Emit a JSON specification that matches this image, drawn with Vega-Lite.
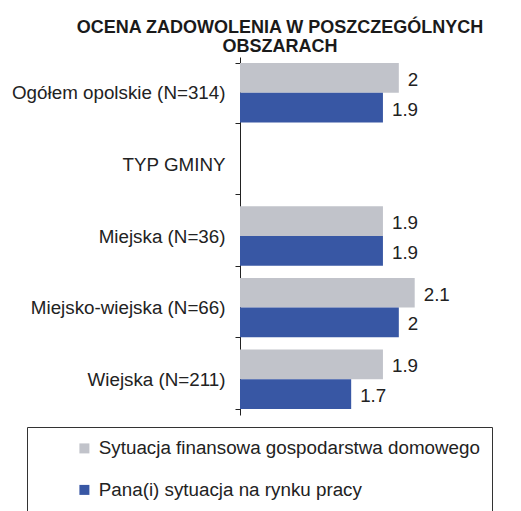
{
  "$schema": "https://vega.github.io/schema/vega-lite/v6.json",
  "autosize": "none",
  "padding": {"left": 240, "top": 57, "right": 11, "bottom": 96},
  "width": 270,
  "height": 358,
  "background": "white",
  "config": {
    "view": {"stroke": null},
    "font": "Liberation Sans"
  },
  "title": {
    "text": ["OCENA ZADOWOLENIA W POSZCZEGÓLNYCH", "OBSZARACH"],
    "fontSize": 18,
    "fontWeight": "bold",
    "font": "Liberation Sans",
    "color": "#1a1a1a",
    "anchor": "middle",
    "frame": "group",
    "dx": -95,
    "dy": 12,
    "offset": 4,
    "lineHeight": 19
  },
  "data": {
    "values": [
      {"kategoria": "Ogółem opolskie (N=314)", "seria": "Sytuacja finansowa gospodarstwa domowego", "wartosc": 2.0},
      {"kategoria": "Ogółem opolskie (N=314)", "seria": "Pana(i) sytuacja na rynku pracy", "wartosc": 1.9},
      {"kategoria": "Miejska (N=36)", "seria": "Sytuacja finansowa gospodarstwa domowego", "wartosc": 1.9},
      {"kategoria": "Miejska (N=36)", "seria": "Pana(i) sytuacja na rynku pracy", "wartosc": 1.9},
      {"kategoria": "Miejsko-wiejska (N=66)", "seria": "Sytuacja finansowa gospodarstwa domowego", "wartosc": 2.1},
      {"kategoria": "Miejsko-wiejska (N=66)", "seria": "Pana(i) sytuacja na rynku pracy", "wartosc": 2.0},
      {"kategoria": "Wiejska (N=211)", "seria": "Sytuacja finansowa gospodarstwa domowego", "wartosc": 1.9},
      {"kategoria": "Wiejska (N=211)", "seria": "Pana(i) sytuacja na rynku pracy", "wartosc": 1.7}
    ]
  },
  "encoding": {
    "y": {
      "field": "kategoria",
      "type": "nominal",
      "scale": {
        "domain": ["Ogółem opolskie (N=314)", "TYP GMINY", "Miejska (N=36)", "Miejsko-wiejska (N=66)", "Wiejska (N=211)"],
        "paddingInner": 0.17,
        "paddingOuter": 0.085
      },
      "axis": {
        "title": null,
        "tickBand": "extent",
        "domainColor": "#222",
        "tickColor": "#222",
        "tickSize": 5,
        "labelFontSize": 18.8,
        "labelColor": "#222",
        "labelPadding": 10,
        "labelLimit": 300,
        "grid": false
      }
    },
    "yOffset": {
      "field": "seria",
      "type": "nominal",
      "scale": {"domain": ["Sytuacja finansowa gospodarstwa domowego", "Pana(i) sytuacja na rynku pracy"], "paddingInner": 0, "paddingOuter": 0}
    },
    "x": {
      "field": "wartosc",
      "type": "quantitative",
      "scale": {"domain": [1, 2.7], "zero": false, "nice": false},
      "axis": null
    }
  },
  "layer": [
    {
      "mark": {"type": "bar"},
      "encoding": {
        "x2": {"datum": 1},
        "color": {
          "field": "seria",
          "type": "nominal",
          "scale": {
            "domain": ["Sytuacja finansowa gospodarstwa domowego", "Pana(i) sytuacja na rynku pracy"],
            "range": ["#C1C3CA", "#3857A4"]
          },
          "legend": {
            "title": "\u00a0",
            "titleOrient": "bottom",
            "titleFontSize": 12,
            "titlePadding": 8,
            "orient": "none",
            "legendX": -213,
            "legendY": 370,
            "direction": "vertical",
            "strokeColor": "#333",
            "padding": 12,
            "symbolType": "square",
            "symbolSize": 100,
            "symbolStrokeWidth": 0,
            "symbolOffset": 36,
            "labelOffset": 5,
            "labelFontSize": 18.8,
            "labelColor": "#222",
            "labelLimit": 0,
            "rowPadding": 21.5,
            "labelExpr": "datum.label + '\u00a0\u00a0\u00a0\u00a0\u00a0\u00a0\u00a0\u00a0\u00a0\u00a0\u00a0\u00a0\u00a0\u00a0\u00a0\u00a0\u00a0\u00a0\u00a0\u00a0\u00a0\u00a0\u00a0\u00a0\u00a0'"
          }
        }
      }
    },
    {
      "mark": {"type": "text", "align": "left", "baseline": "middle", "dx": 9, "dy": 2, "fontSize": 18.8, "color": "#222"},
      "encoding": {
        "text": {"field": "wartosc", "type": "quantitative", "format": "~r"}
      }
    }
  ]
}
